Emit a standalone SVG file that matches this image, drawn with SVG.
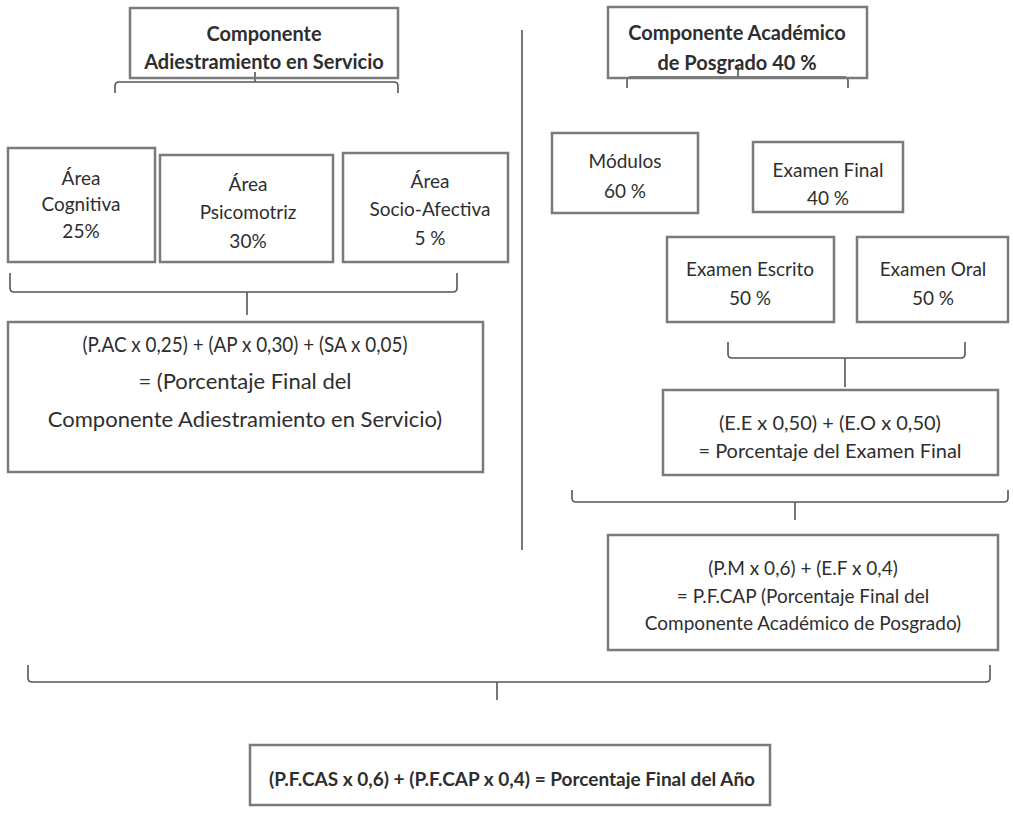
<svg xmlns="http://www.w3.org/2000/svg" width="1013" height="824" viewBox="0 0 1013 824">
<style>
.bx{fill:none;stroke:#7a7a7a;stroke-width:2.5}
.br{fill:none;stroke:#555;stroke-width:1.6}
text{font-family:Lato,"Liberation Sans",sans-serif;fill:#2e2e2e;text-anchor:middle;dominant-baseline:central;font-size:19px}
.b{font-weight:bold;font-size:20px}
.bf{font-weight:bold;font-size:19px}
.f{font-size:22px}
.f1{font-size:21px}
.e{font-size:20px}
</style>
<rect width="1013" height="824" fill="#fff"/>
<g id="connectors">
<path class="br" d="M522 30V550"/>
<path class="br" d="M115 93V86Q115 82 119 82H394Q398 82 398 86V93M255 82V72"/>
<path class="br" d="M627 88V81Q627 77 631 77H844Q848 77 848 81V88M738 77V66"/>
<path class="br" d="M10 273V288Q10 292 14 292H453Q457 292 457 288V273M247 292V315"/>
<path class="br" d="M728 342V354Q728 358 732 358H961Q965 358 965 354V342M845 358V387"/>
<path class="br" d="M572 490V498Q572 502 576 502H1004Q1008 502 1008 498V490M795 502V520"/>
<path class="br" d="M28 665V678Q28 682 32 682H986Q990 682 990 678V665M497 682V700"/>
</g>
<g id="n-cas">
<rect class="bx" x="130" y="8" width="268" height="70"/>
<text class="b" x="264" y="33">Componente</text>
<text class="b" x="264" y="61">Adiestramiento en Servicio</text>
</g>
<g id="n-cap">
<rect class="bx" x="608" y="7" width="259" height="71"/>
<text class="b" x="737" y="32">Componente Académico</text>
<text class="b" x="737" y="62">de Posgrado 40 %</text>
</g>
<g id="n-cog">
<rect class="bx" x="8" y="148" width="147" height="114"/>
<text x="81" y="177">Área</text>
<text x="81" y="203">Cognitiva</text>
<text x="81" y="230">25%</text>
</g>
<g id="n-psi">
<rect class="bx" x="160" y="155" width="173" height="107"/>
<text x="248" y="183">Área</text>
<text x="248" y="211">Psicomotriz</text>
<text x="248" y="240">30%</text>
</g>
<g id="n-soc">
<rect class="bx" x="343" y="153" width="165" height="109"/>
<text x="430" y="180">Área</text>
<text x="430" y="208">Socio-Afectiva</text>
<text x="430" y="237">5 %</text>
</g>
<g id="n-fcas">
<rect class="bx" x="8" y="322" width="475" height="150"/>
<text class="f1" x="245" y="343" textLength="325" lengthAdjust="spacingAndGlyphs">(P.AC x 0,25) + (AP x 0,30) + (SA x 0,05)</text>
<text class="f" x="245" y="380">= (Porcentaje Final del</text>
<text class="f" x="245" y="418">Componente Adiestramiento en Servicio)</text>
</g>
<g id="n-mod">
<rect class="bx" x="552" y="133" width="146" height="80"/>
<text x="625" y="160">Módulos</text>
<text x="625" y="190">60 %</text>
</g>
<g id="n-exf">
<rect class="bx" x="753" y="142" width="150" height="70"/>
<text x="828" y="169">Examen Final</text>
<text x="828" y="197">40 %</text>
</g>
<g id="n-exe">
<rect class="bx" x="667" y="237" width="167" height="85"/>
<text x="750" y="268">Examen Escrito</text>
<text x="750" y="297">50 %</text>
</g>
<g id="n-exo">
<rect class="bx" x="857" y="237" width="151" height="85"/>
<text x="933" y="268">Examen Oral</text>
<text x="933" y="297">50 %</text>
</g>
<g id="n-fexf">
<rect class="bx" x="663" y="390" width="335" height="85"/>
<text class="e" x="830" y="422">(E.E x 0,50) + (E.O x 0,50)</text>
<text class="e" x="830" y="450">= Porcentaje del Examen Final</text>
</g>
<g id="n-fcap">
<rect class="bx" x="608" y="535" width="390" height="115"/>
<text x="803" y="567">(P.M x 0,6) + (E.F x 0,4)</text>
<text x="803" y="595">= P.F.CAP (Porcentaje Final del</text>
<text x="803" y="622">Componente Académico de Posgrado)</text>
</g>
<g id="n-final">
<rect class="bx" x="250" y="745" width="520" height="60"/>
<text class="bf" x="512" y="778">(P.F.CAS x 0,6) + (P.F.CAP x 0,4) = Porcentaje Final del Año</text>
</g>
</svg>
